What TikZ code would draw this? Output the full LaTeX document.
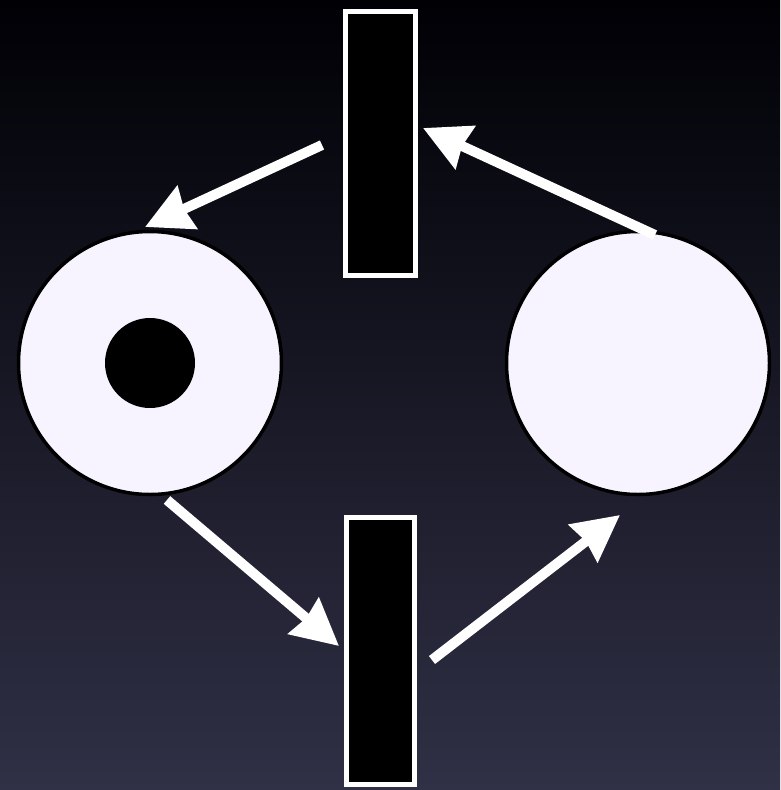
\documentclass[tikz,border=0pt]{standalone}
\usetikzlibrary{arrows.meta}
\definecolor{bgtop}{RGB}{0,0,5}
\definecolor{bgmid}{RGB}{16,16,38}
\definecolor{bgbot}{RGB}{48,48,70}
\definecolor{placefill}{RGB}{248,244,255}
\begin{document}
\begin{tikzpicture}[x=1pt,y=-1pt,
  place/.style={circle,draw=black,line width=3.5pt,fill=placefill,minimum size=263pt,inner sep=0pt},
  token/.style={circle,fill=black,minimum size=90pt,inner sep=0pt},
  trans/.style={rectangle,draw=white,line width=5pt,fill=black,inner sep=0pt},
  arr/.style={draw=white,line width=10pt,-{Stealth[length=46pt,width=46pt,inset=3pt]}}]
\shade[top color=bgtop,middle color=bgmid,bottom color=bgbot] (0,0) rectangle (780,790);
\useasboundingbox (0,0) rectangle (780,790);
\node[place] (p1) at (150,363) {};
\node[token] (tk) at (150,363) {};
\node[place] (p2) at (638,363) {};
\node[trans,minimum width=70pt,minimum height=264pt] (t1) at (380.5,143.5) {};
\node[trans,minimum width=68pt,minimum height=267pt] (t2) at (380.5,651) {};
\coordinate (a1s) at (322,145);
\coordinate (a1e) at (145,227);
\coordinate (a2s) at (655,235);
\coordinate (a2e) at (423,128);
\coordinate (a3s) at (167,500);
\coordinate (a3e) at (339,646);
\coordinate (a4s) at (432,660);
\coordinate (a4e) at (620,515);
\draw[arr] (a1s) -- (a1e);
\draw[arr] (a2s) -- (a2e);
\draw[arr] (a3s) -- (a3e);
\draw[arr] (a4s) -- (a4e);
\end{tikzpicture}
\end{document}
